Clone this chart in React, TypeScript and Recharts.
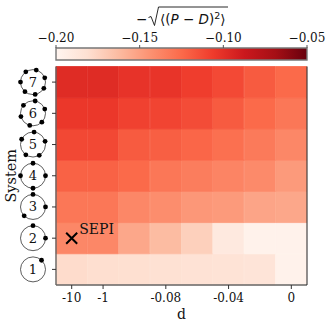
import React from "react";
import { BarChart, Bar, Cell, XAxis, YAxis, ReferenceDot } from "recharts";

const columns = ["-10", "-1", "-0.1", "-0.08", "-0.06", "-0.04", "-0.02", "0"];
const shownColumns = ["-10", "-1", "-0.08", "-0.04", "0"];
const system1 = [-0.179, -0.1805, -0.181, -0.182, -0.183, -0.1835, -0.185, -0.197];
const system2 = [-0.1385, -0.1385, -0.1535, -0.163, -0.173, -0.1895, -0.197, -0.197];
const system3 = [-0.131, -0.131, -0.1385, -0.1415, -0.146, -0.1475, -0.152, -0.1535];
const system4 = [-0.122, -0.122, -0.125, -0.131, -0.134, -0.137, -0.14, -0.1475];
const system5 = [-0.1115, -0.1115, -0.119, -0.1205, -0.1235, -0.128, -0.1325, -0.1385];
const system6 = [-0.104, -0.104, -0.1085, -0.11, -0.113, -0.119, -0.125, -0.131];
const system7 = [-0.098, -0.098, -0.102, -0.1025, -0.107, -0.112, -0.119, -0.125];
const systems = [system1, system2, system3, system4, system5, system6, system7];
const systemTicks = [0.5, 1.5, 2.5, 3.5, 4.5, 5.5, 6.5];
const colorTicks = [-0.2, -0.15, -0.1, -0.05];
const colorExtent = [{ name: "scale", range: [-0.2, -0.05] }];
const redsMap = ["#fff5f0", "#fee0d2", "#fcbba1", "#fc9272", "#fb6a4a", "#ef3b2c", "#cb181d", "#a50f15", "#67000d"];
// angle of each satellite dot on a system's ring, degrees clockwise from the top
const ringAngles: number[][] = [
  [43],
  [0, 90],
  [0, 90, 225],
  [0, 90, 180, 270],
  [5, 75, 150, 215, 295],
  [10, 70, 135, 195, 255, 310],
  [15, 70, 120, 170, 220, 270, 325],
];

const SERIF = "'DejaVu Serif', serif";
const SANS = "'DejaVu Sans', sans-serif";
const SPINE = "#666";

const hex = (s: string, i: number) => parseInt(s.slice(1 + i * 2, 3 + i * 2), 16);
function reds(value: number) {
  const t = Math.min(1, Math.max(0, (value + 0.2) / 0.15)) * 8;
  const a = Math.min(7, Math.floor(t));
  const f = t - a;
  const c = [0, 1, 2].map((i) => Math.round(hex(redsMap[a], i) * (1 - f) + hex(redsMap[a + 1], i) * f));
  return `rgb(${c[0]},${c[1]},${c[2]})`;
}

const rows = columns.map((d) => {
  const row: Record<string, string | number> = { d };
  systems.forEach((_, i) => (row[`s${i}`] = 1));
  return row;
});

const XTick = (p: any) => {
  if (!shownColumns.includes(p.payload.value)) return <g />;
  return (
    <g>
      <line x1={p.x} x2={p.x} y1={p.y} y2={p.y + 4} stroke="#333" />
      <text x={p.x} y={p.y + 17} textAnchor="middle" fontFamily={SERIF} fontSize={12} fill="#111">
        {p.payload.value}
      </text>
    </g>
  );
};

const YTick = (p: any) => {
  const idx = systemTicks.indexOf(p.payload.value);
  const cx = p.x - 23;
  const cy = p.y;
  const R = 12.5;
  return (
    <g>
      <line x1={p.x - 4} x2={p.x} y1={cy} y2={cy} stroke="#333" />
      <circle cx={cx} cy={cy} r={R} fill="none" stroke="#333" strokeWidth={0.8} />
      {ringAngles[idx].map((a) => (
        <circle
          key={a}
          cx={cx + R * Math.sin((a * Math.PI) / 180)}
          cy={cy - R * Math.cos((a * Math.PI) / 180)}
          r={2.4}
          fill="#000"
        />
      ))}
      <text x={cx} y={cy + 4.5} textAnchor="middle" fontFamily={SERIF} fontSize={13} fill="#111">
        {idx + 1}
      </text>
    </g>
  );
};

const SepiMark = (p: any) => (
  <g>
    <path
      d={`M${p.cx - 5.5} ${p.cy - 5.5}L${p.cx + 5.5} ${p.cy + 5.5}M${p.cx - 5.5} ${p.cy + 5.5}L${p.cx + 5.5} ${p.cy - 5.5}`}
      stroke="#000"
      strokeWidth={2}
      fill="none"
    />
    <text x={p.cx + 7.5} y={p.cy - 4} fontFamily={SERIF} fontSize={14} fill="#111">
      SEPI
    </text>
  </g>
);

const ColorTick = (p: any) => (
  <g>
    <line x1={p.x} x2={p.x} y1={p.y} y2={p.y - 3} stroke="#555" />
    <text x={p.x} y={p.y - 6} textAnchor="middle" fontFamily={SERIF} fontSize={12} fill="#111">
      {`\u2212${Math.abs(p.payload.value).toFixed(2)}`}
    </text>
  </g>
);

const ColorTitle = () => (
  <g fontFamily={SANS} fontSize={13.5} fill="#111">
    <text x={136} y={24}>{"\u2212"}</text>
    <path d="M148.5 17.5L151 16.5L154.5 25.5L158.5 7H228" fill="none" stroke="#111" strokeWidth={0.9} />
    <text x={160} y={24}>
      {"\u27E8("}
      <tspan fontStyle="italic">P</tspan>
      {" \u2212 "}
      <tspan fontStyle="italic">D</tspan>
      {")"}
      <tspan fontSize={9.5} dy={-5}>2</tspan>
      <tspan dy={5}>{"\u27E9"}</tspan>
    </text>
  </g>
);

export default function App() {
  return (
    <div style={{ position: "absolute", left: 0, top: 0, width: 333, height: 328, background: "#fff" }}>
      <div style={{ position: "absolute", left: 0, top: 0 }}>
        <BarChart
          width={333}
          height={328}
          data={rows}
          barCategoryGap={0}
          margin={{ top: 66.5, right: 0, bottom: 0, left: 0 }}
        >
          <XAxis dataKey="d" type="category" height={43} interval={0} tickLine={false} tickSize={0} tickMargin={0}
            axisLine={{ stroke: SPINE, strokeWidth: 1.4 }} tick={XTick}
            label={{ value: "d", position: "insideBottom", offset: 9, fontFamily: SERIF, fontSize: 14, fill: "#111" }} />
          <XAxis xAxisId="top" dataKey="d" orientation="top" height={0} tick={false} tickLine={false} axisLine={{ stroke: "#222" }} />
          <YAxis type="number" domain={[0, 7]} ticks={systemTicks} width={56} interval={0} tickLine={false} tickSize={0} tickMargin={0}
            axisLine={{ stroke: SPINE, strokeWidth: 1.4 }} tick={YTick}
            label={{ value: "System", angle: -90, position: "insideLeft", offset: 11, textAnchor: "middle", fontFamily: SERIF, fontSize: 14.5, fill: "#111" }} />
          <YAxis yAxisId="right" type="number" domain={[0, 7]} orientation="right" width={26} tick={false} tickLine={false} axisLine={{ stroke: "#222" }} />
          {systems.map((values, i) => (
            <Bar key={i} dataKey={`s${i}`} stackId="grid" isAnimationActive={false}>
              {values.map((v, j) => (
                <Cell key={j} fill={reds(v)} stroke={reds(v)} strokeWidth={0.8} />
              ))}
            </Bar>
          ))}
          <ReferenceDot x="-10" y={1.5} r={6} shape={SepiMark} />
        </BarChart>
      </div>
      <div style={{ position: "absolute", left: 0, top: 0 }}>
        <BarChart layout="vertical" width={333} height={66} data={colorExtent} barCategoryGap={0} margin={{ top: 0, right: 26, bottom: 6, left: 56 }}>
          <defs>
            <linearGradient id="redsGradient" x1="0" x2="1" y1="0" y2="0">
              {redsMap.map((c, i) => (
                <stop key={c} offset={i / 8} stopColor={c} />
              ))}
            </linearGradient>
          </defs>
          <XAxis type="number" orientation="top" domain={[-0.2, -0.05]} ticks={colorTicks} height={48} interval={0}
            tickLine={false} tickSize={0} tickMargin={0} axisLine={false} tick={ColorTick}
            label={<ColorTitle />} />
          <YAxis type="category" dataKey="name" hide />
          <Bar dataKey="range" fill="url(#redsGradient)" stroke="#777" strokeWidth={1.4} isAnimationActive={false} />
        </BarChart>
      </div>
    </div>
  );
}
